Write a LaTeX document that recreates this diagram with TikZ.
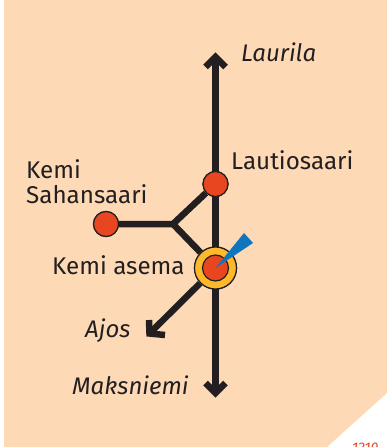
\documentclass[tikz,border=0pt]{standalone}
\usepackage{fontspec}
\setmainfont{Fira Sans}
\definecolor{peach}{HTML}{FDD9B5}
\definecolor{ink}{HTML}{231F20}
\definecolor{stopred}{HTML}{E84620}
\definecolor{ringy}{HTML}{FDB92B}
\definecolor{wedge}{HTML}{0F75BC}
\definecolor{code}{HTML}{E8482A}
\tikzset{x=1pt,y=-1pt,
  track/.style={draw=ink,line width=6.5pt},
  tip/.style={draw=ink,line width=6.5pt,line cap=butt,miter limit=10},
  stopdot/.style={circle,draw=ink,line width=1.2pt,fill=stopred,minimum size=25pt,inner sep=0pt},
  ringdot/.style={circle,draw=ink,line width=1.2pt,fill=ringy,minimum size=42pt,inner sep=0pt},
  coredot/.style={circle,draw=ink,line width=1.2pt,fill=stopred,minimum size=26pt,inner sep=0pt},
  lab/.style={font=\fontsize{24.2}{27}\selectfont,text=ink,inner sep=0pt,align=left},
  ilab/.style={lab,font=\fontsize{24}{27}\selectfont\itshape},
}
\begin{document}
\begin{tikzpicture}
\useasboundingbox (0,0) rectangle (387,447);
\fill[white] (0,0) rectangle (387,447);
\fill[peach] (4,0) -- (387,0) -- (387,393) -- (327,447) -- (4,447) -- cycle;
\coordinate (top) at (215.5,56);
\coordinate (bot) at (215.5,394);
\coordinate (junction) at (173,224);
\coordinate (ajosend) at (149,334);
\node[stopdot] (laut) at (215.5,184) {};
\node[stopdot] (sahan) at (106,224) {};
\node[ringdot] (kemi) at (215.5,268) {};
\draw[track] (top) -- (bot);
\draw[track,line join=miter] (sahan) -- (junction) -- (laut);
\draw[track] (junction) -- (kemi);
\draw[track] (kemi) -- (ajosend);
\draw[tip] (205.5,67) -- (215.5,57) -- (225.5,67);
\draw[tip] (205.5,383) -- (215.5,393) -- (225.5,383);
\draw[tip] (149,320) -- (149.5,333.5) -- (165,335);
\node[stopdot] at (laut) {};
\node[stopdot] at (sahan) {};
\node[ringdot] at (kemi) {};
\node[coredot] (core) at (kemi) {};
\fill[wedge] (core.center) -- (244,233) -- (253,243) -- cycle;
\node[ilab,anchor=base west] (l1) at (241,61) {Laurila};
\node[lab,anchor=base west] (l2) at (231,169) {Lautiosaari};
\node[lab,anchor=base west] (l3) at (26,178) {Kemi};
\node[lab,anchor=base west] (l4) at (26,203) {Sahansaari};
\node[lab,anchor=base west] (l5) at (52,274) {Kemi asema};
\node[ilab,anchor=base west] (l6) at (85,337) {Ajos};
\node[ilab,anchor=base west] (l7) at (72,394) {Maksniemi};
\node[anchor=base west,inner sep=0pt,text=code,font=\fontsize{14}{16}\selectfont\itshape] (l8) at (352,452) {1210};
\end{tikzpicture}
\end{document}
